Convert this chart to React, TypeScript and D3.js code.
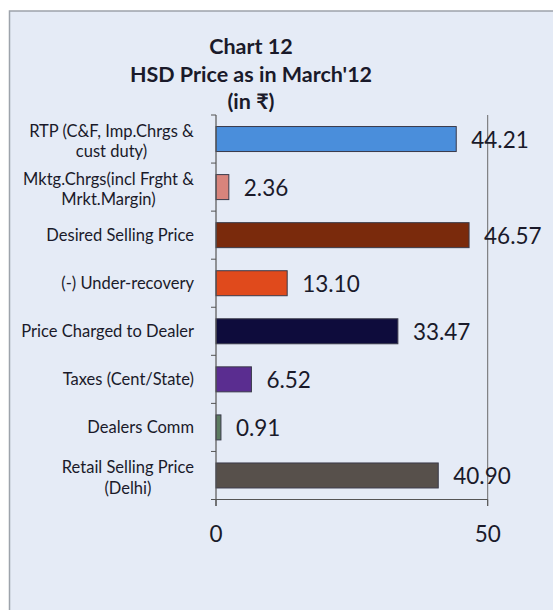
import React from "react";
import * as d3 from "d3";

const categories: string[][] = [
  ["RTP (C&F, Imp.Chrgs &", "cust duty)"],
  ["Mktg.Chrgs(incl Frght &", "Mrkt.Margin)"],
  ["Desired Selling Price"],
  ["(-) Under-recovery"],
  ["Price Charged to Dealer"],
  ["Taxes (Cent/State)"],
  ["Dealers Comm"],
  ["Retail Selling Price", "(Delhi)"],
];
const values: number[] = [44.21, 2.36, 46.57, 13.1, 33.47, 6.52, 0.91, 40.9];
const barColors: string[] = [
  "#4a8edb",
  "#d8847c",
  "#7a2a0c",
  "#e04a1c",
  "#0e0c3c",
  "#5a2d90",
  "#5c7b60",
  "#57504b",
];
const xTicks: number[] = [0, 50];
const titleLines: string[] = ["Chart 12", "HSD Price as in March'12", "(in ₹)"];

const W = 553;
const H = 610;
const FONT = "Lato, 'Open Sans', sans-serif";
const TEXT = "#1a1a2a";
const CAT_SIZE = 16.5;

let measureCtx: CanvasRenderingContext2D | null = null;
function measure(text: string, size: number): number {
  if (!measureCtx) {
    const c = document.createElement("canvas");
    measureCtx = c.getContext("2d");
  }
  if (!measureCtx) return text.length * size * 0.5;
  measureCtx.font = `${size}px Lato, 'Open Sans', sans-serif`;
  return measureCtx.measureText(text).width;
}

export default function App() {
  const x = d3.scaleLinear().domain([0, 50]).range([216, 487.7]);
  const y = d3
    .scaleBand<number>()
    .domain(d3.range(categories.length))
    .range([115, 499.5])
    .paddingInner(0.48)
    .paddingOuter(0.24);
  const bandStep = y.step();
  const boundaries = d3.range(categories.length + 1).map((i) => 115 + i * bandStep);
  const labelRight = 194;

  return (
    <svg
      width={W}
      height={H}
      style={{ position: "absolute", left: 0, top: 0 }}
      fontFamily={FONT}
    >
      <rect x={0} y={0} width={W} height={H} fill="#ffffff" />
      <rect
        x={9.5}
        y={11}
        width={W + 20}
        height={H + 20}
        fill="#e5ebf6"
        stroke="#9da3ab"
        strokeWidth={1.5}
      />
      {/* title */}
      {titleLines.map((t, i) => (
        <text
          key={t}
          x={251}
          y={46 + i * 27.5}
          textAnchor="middle"
          dominantBaseline="central"
          fontWeight="bold"
          fontSize={21.5}
          fill={TEXT}
        >
          {t}
        </text>
      ))}
      {/* gridline at 50 */}
      <line x1={x(50)} x2={x(50)} y1={115} y2={506} stroke="#6b6b6b" strokeWidth={1} />
      {/* bars */}
      {values.map((v, i) => (
        <rect
          key={i}
          x={x(0)}
          y={y(i)}
          width={x(v) - x(0)}
          height={y.bandwidth()}
          fill={barColors[i]}
          stroke="#3a3a4a"
          strokeWidth={1}
        />
      ))}
      {/* value labels */}
      {values.map((v, i) => (
        <text
          key={"v" + i}
          x={x(v) + 15}
          y={(y(i) as number) + y.bandwidth() / 2}
          dominantBaseline="central"
          fontSize={22.5}
          fill={TEXT}
        >
          {v.toFixed(2)}
        </text>
      ))}
      {/* y axis */}
      <line x1={x(0)} x2={x(0)} y1={115} y2={506} stroke="#555" strokeWidth={1.2} />
      {boundaries.map((b, i) => (
        <line key={"t" + i} x1={x(0) - 5} x2={x(0)} y1={b} y2={b} stroke="#555" strokeWidth={1} />
      ))}
      {/* x axis */}
      <line x1={x(0)} x2={x(50)} y1={499.5} y2={499.5} stroke="#555" strokeWidth={1.2} />
      {xTicks.map((t) => (
        <g key={"x" + t}>
          <line x1={x(t)} x2={x(t)} y1={499.5} y2={506} stroke="#555" strokeWidth={1} />
          <text
            x={x(t)}
            y={533}
            textAnchor="middle"
            dominantBaseline="central"
            fontSize={22.5}
            fill={TEXT}
          >
            {t}
          </text>
        </g>
      ))}
      {/* category labels: multi-line blocks are centred, block right-aligned */}
      {categories.map((lines, i) => {
        const cy = (y(i) as number) + y.bandwidth() / 2 + (lines.length > 1 ? 2 : 0);
        const lh = 20.5;
        const maxW = d3.max(lines, (l) => measure(l, CAT_SIZE)) || 0;
        const cx = lines.length > 1 ? labelRight - maxW / 2 : labelRight;
        const anchor = lines.length > 1 ? "middle" : "end";
        return (
          <text
            key={"c" + i}
            x={cx}
            textAnchor={anchor}
            fontSize={CAT_SIZE}
            fill={TEXT}
            dominantBaseline="central"
          >
            {lines.map((l, j) => (
              <tspan key={j} x={cx} y={cy + (j - (lines.length - 1) / 2) * lh}>
                {l}
              </tspan>
            ))}
          </text>
        );
      })}
    </svg>
  );
}
